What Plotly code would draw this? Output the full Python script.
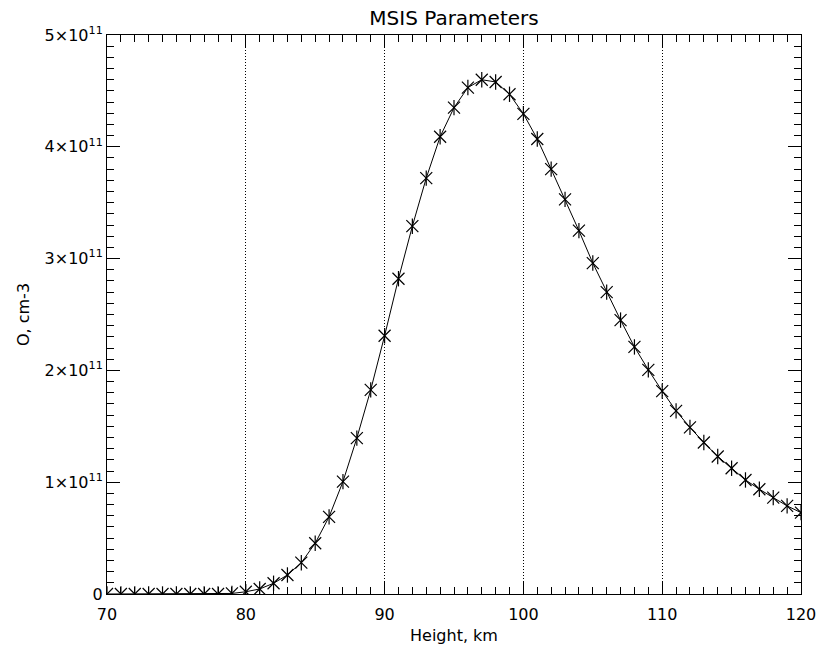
import plotly.graph_objects as go

heights = list(range(70, 121))
oxygen = [0.0, 0.0, 0.0, 0.0, 0.0, 0.0, 0.0, 0.0, 0.0, 0.005,
          0.02, 0.045, 0.096, 0.17, 0.28, 0.454, 0.69, 1.005, 1.394, 1.826,
          2.31, 2.82, 3.29, 3.72, 4.09, 4.35, 4.53, 4.60, 4.58, 4.47,
          4.295, 4.07, 3.80, 3.53, 3.25, 2.96, 2.70, 2.45, 2.21, 2.005,
          1.815, 1.638, 1.49, 1.355, 1.23, 1.125, 1.02, 0.937, 0.862, 0.788,
          0.728]
oxygen = [v * 1e11 for v in oxygen]

ytick_vals = [0, 1e11, 2e11, 3e11, 4e11, 5e11]
ytick_text = ["0", "1×10<sup>11</sup>", "2×10<sup>11</sup>", "3×10<sup>11</sup>",
              "4×10<sup>11</sup>", "5×10<sup>11</sup>"]
xtick_vals = [70, 80, 90, 100, 110, 120]

FONT = "DejaVu Sans"

fig = go.Figure()
fig.add_trace(go.Scatter(
    x=heights, y=oxygen, mode="lines+markers",
    line=dict(color="black", width=1),
    marker=dict(symbol="x-thin-open", size=12, color="black",
                line=dict(color="black", width=1.2)),
    showlegend=False, hoverinfo="skip"))
fig.add_trace(go.Scatter(
    x=heights, y=oxygen, mode="markers",
    marker=dict(symbol="line-ns-open", size=11, color="black",
                line=dict(color="black", width=1.2)),
    showlegend=False, hoverinfo="skip"))

fig.update_layout(
    width=819, height=649,
    margin=dict(l=107, r=18, t=35, b=55, autoexpand=False),
    paper_bgcolor="white", plot_bgcolor="white",
    font=dict(family=FONT, size=16, color="black"),
    title=dict(text="MSIS Parameters", x=(107 + 347) / 819, xanchor="center",
               y=1 - 18 / 649, yanchor="middle", font=dict(family=FONT, size=20, color="black")),
)

fig.update_xaxes(
    range=[70, 120], tickvals=xtick_vals, ticktext=[str(v) for v in xtick_vals],
    ticks="inside", ticklen=13, tickwidth=1, tickcolor="black",
    showline=True, linecolor="black", linewidth=1, mirror="ticks",
    showgrid=True, gridcolor="black", gridwidth=1, griddash="1px,2px",
    zeroline=False, ticklabelstandoff=6,
    minor=dict(dtick=1, ticks="inside", ticklen=7, tickwidth=1, tickcolor="black", showgrid=False),
    tickfont=dict(family=FONT, size=16, color="black"),
    title=dict(text="Height, km", font=dict(family=FONT, size=16, color="black"), standoff=6),
)
fig.update_yaxes(
    range=[0, 5e11], tickvals=ytick_vals, ticktext=ytick_text,
    ticks="inside", ticklen=13, tickwidth=1, tickcolor="black",
    showline=True, linecolor="black", linewidth=1, mirror="ticks",
    showgrid=False, zeroline=False,
    minor=dict(dtick=1e10, ticks="inside", ticklen=7, tickwidth=1, tickcolor="black", showgrid=False),
    tickfont=dict(family=FONT, size=16, color="black"),
    title=dict(text="O, cm-3", font=dict(family=FONT, size=16, color="black"), standoff=10),
)

fig.write_html(
    "out.html",
    config={"displayModeBar": False, "staticPlot": True},
    post_script="document.body.style.margin='0px';document.body.style.overflow='hidden';",
)
